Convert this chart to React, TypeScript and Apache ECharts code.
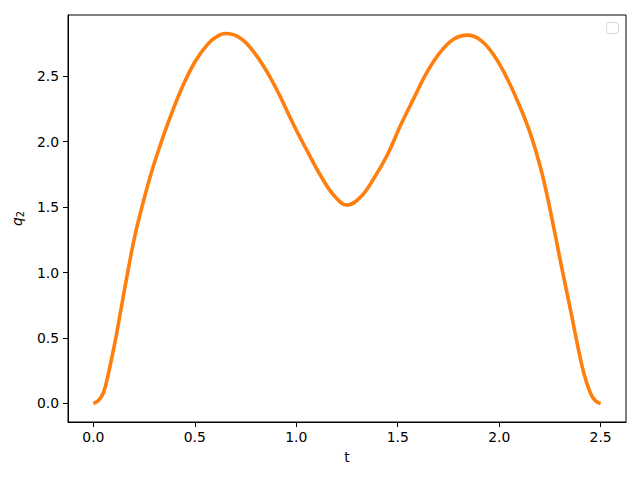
import React, { useEffect, useRef } from "react";
import * as echarts from "echarts";

const tValues = [0, 0.025, 0.049, 0.07, 0.108, 0.141, 0.174, 0.207, 0.248, 0.289, 0.33, 0.37, 0.435, 0.501, 0.567, 0.616, 0.654, 0.725, 0.79, 0.856, 0.922, 0.988, 1.06, 1.119, 1.185, 1.251, 1.317, 1.382, 1.448, 1.514, 1.579, 1.645, 1.711, 1.777, 1.843, 1.908, 1.974, 2.04, 2.106, 2.155, 2.204, 2.245, 2.311, 2.352, 2.385, 2.418, 2.451, 2.475, 2.5];
const q2Values = [0, 0.023, 0.08, 0.2, 0.48, 0.762, 1.042, 1.297, 1.552, 1.78, 1.975, 2.15, 2.405, 2.61, 2.75, 2.81, 2.826, 2.79, 2.686, 2.533, 2.34, 2.125, 1.91, 1.743, 1.59, 1.515, 1.577, 1.718, 1.896, 2.125, 2.33, 2.533, 2.686, 2.783, 2.813, 2.775, 2.66, 2.48, 2.253, 2.055, 1.8, 1.525, 1.017, 0.711, 0.456, 0.227, 0.074, 0.02, 0];
const xTicks = [0, 0.5, 1.0, 1.5, 2.0, 2.5];
const yTicks = [0, 0.5, 1.0, 1.5, 2.0, 2.5];

const FONT = "DejaVu Sans";

export default function App() {
  const ref = useRef<HTMLDivElement>(null);
  useEffect(() => {
    if (!ref.current) return;
    const chart = echarts.init(ref.current, null, { renderer: "svg" });
    const data = tValues.map((t, i) => [t, q2Values[i]]);
    chart.setOption({
      animation: false,
      grid: {
        left: 68,
        right: 14,
        top: 15,
        bottom: 58,
        show: true,
        borderColor: "#000",
        borderWidth: 1,
        backgroundColor: "#fff",
      },
      xAxis: {
        type: "value",
        min: -0.125,
        max: 2.625,
        splitLine: { show: false },
        axisLine: { show: true, onZero: false, lineStyle: { color: "#000", width: 1 } },
        axisTick: { show: true, inside: false, length: 5, customValues: xTicks, lineStyle: { color: "#000" } },
        axisLabel: {
          customValues: xTicks,
          formatter: (v: number) => v.toFixed(1),
          color: "#000",
          fontFamily: FONT,
          fontSize: 13.9,
          margin: 8,
        },
        name: "t",
        nameLocation: "middle",
        nameGap: 28,
        nameTextStyle: { color: "#000", fontFamily: FONT, fontSize: 13.9 },
      },
      yAxis: {
        type: "value",
        min: -0.1413,
        max: 2.967,
        splitLine: { show: false },
        axisLine: { show: true, onZero: false, lineStyle: { color: "#000", width: 1 } },
        axisTick: { show: true, inside: false, length: 5, customValues: yTicks, lineStyle: { color: "#000" } },
        axisLabel: {
          customValues: yTicks,
          formatter: (v: number) => v.toFixed(1),
          color: "#000",
          fontFamily: FONT,
          fontSize: 13.9,
          margin: 9,
        },
        name: "{q|q}{s|2}",
        nameLocation: "middle",
        nameGap: 43,
        nameRotate: 90,
        nameTextStyle: {
          color: "#000",
          fontFamily: FONT,
          rich: {
            q: { fontSize: 13.9, fontStyle: "italic", fontFamily: FONT, color: "#000", verticalAlign: "middle" },
            s: { fontSize: 9.7, fontFamily: FONT, color: "#000", verticalAlign: "bottom", padding: [6, 0, 0, 0] },
          },
        },
      },
      graphic: [
        {
          type: "rect",
          shape: { x: 606.5, y: 22.5, width: 12, height: 11, r: 3 },
          style: { fill: "#fff", stroke: "#d4d4d4", lineWidth: 1 },
          z: 10,
        },
      ],
      series: [
        {
          type: "line",
          data,
          showSymbol: false,
          smooth: 0.4,
          lineStyle: { color: "#ff7f0e", width: 3.6 },
          itemStyle: { color: "#ff7f0e" },
        },
      ],
    });
    return () => chart.dispose();
  }, []);
  return <div ref={ref} style={{ position: "absolute", left: 0, top: 0, width: 640, height: 480 }} />;
}
